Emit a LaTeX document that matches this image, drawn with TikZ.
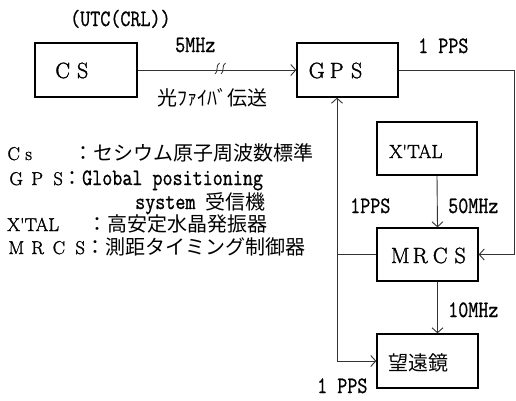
\documentclass[tikz,border=0pt]{standalone}
\usepackage{fontspec}
\newfontfamily\jp{Noto Sans CJK JP}
\newfontfamily\romh{Latin Modern Roman}[FakeBold=1.6]
\newfontfamily\monoh{Latin Modern Mono}[FakeBold=1.0]
\usetikzlibrary{arrows.meta}
\newcommand\cellw[2]{\makebox[#1][c]{#2}}
\newcommand\tallm[1]{\scalebox{1}[1.2]{#1}}
\begin{document}
\begin{tikzpicture}[x=1pt,y=-1pt,
  box/.style={draw=black,line width=1.3pt,inner sep=0,minimum width=101pt,minimum height=54pt},
  conn/.style={draw=black!80,line width=0.9pt},
  arr/.style={conn,-{Straight Barb[length=5pt,width=11pt,line width=0.9pt]}},
  lbl/.style={inner sep=0,anchor=base west,font=\fontsize{19.5}{22}\selectfont\monoh},
  jtxt/.style={inner sep=0,anchor=base west,font=\fontsize{20}{24}\selectfont\jp},
  btxt/.style={inner sep=0,anchor=base west,font=\fontsize{22}{26}\selectfont\romh},
  ltxt/.style={inner sep=0,anchor=base west,font=\fontsize{18.5}{22}\selectfont\romh},
]
\useasboundingbox (0,0) rectangle (516,400);

% boxes
\node[box,minimum width=102pt] (cs) at (86,70) {};
\node[box] (gps) at (347.5,70) {};
\node[box,minimum width=100pt,minimum height=53pt] (xtal) at (427,148.5) {};
\node[box,minimum height=53pt] (mrcs) at (427.5,254.5) {};
\node[box] (tel) at (427.5,361) {};

% box texts
\node[btxt] (cst) at (52.5,78) {\cellw{20pt}{C}\cellw{20pt}{S}};
\node[btxt] (gpst) at (306.5,78) {\cellw{20pt}{G}\cellw{20pt}{P}\cellw{20pt}{S}};
\node[ltxt,font=\fontsize{19}{22}\selectfont\romh] (xtalt) at (389,158) {X'TAL};
\node[btxt] (mrcst) at (390,263) {\cellw{20pt}{M}\cellw{20pt}{R}\cellw{20pt}{C}\cellw{20pt}{S}};
\node[jtxt] (telt) at (388,370) {望遠鏡};

% labels
\node[lbl] (utc) at (70,26) {\tallm{(UTC(CRL))}};
\node[lbl] (f5) at (175,52) {\tallm{5MHz}};
\node[jtxt] (fiber) at (157,105) {光ﾌｧｲﾊﾞ伝送};
\node[lbl] (pps1) at (418,53) {\tallm{1 PPS}};
\node[lbl] (pps2) at (350,213) {\tallm{1PPS}};
\node[lbl] (f50) at (448,213) {\tallm{50MHz}};
\node[lbl] (f10) at (448,317) {\tallm{10MHz}};
\node[lbl] (pps3) at (317,393) {\tallm{1 PPS}};

% legend
\node[ltxt] (l1a) at (6,160) {\cellw{15pt}{C}\cellw{15pt}{s}};
\node[jtxt] (l1b) at (73,160) {：セシウム原子周波数標準};
\node[ltxt] (l2a) at (5.5,185) {\cellw{21pt}{G}\cellw{21pt}{P}\cellw{21pt}{S}};
\node[jtxt] (l2b) at (62,185) {：{\monoh\fontsize{19.5}{22}\selectfont\tallm{Global positioning}}};
\node[jtxt] (l3) at (135,209) {{\monoh\fontsize{19.5}{22}\selectfont\tallm{system}\ }受信機};
\node[ltxt] (l4a) at (7,231) {X'TAL};
\node[jtxt] (l4b) at (87,231) {：高安定水晶発振器};
\node[ltxt] (l5a) at (5.5,254) {\cellw{21.3pt}{M}\cellw{21.3pt}{R}\cellw{21.3pt}{C}\cellw{21.3pt}{S}};
\node[jtxt] (l5b) at (85,254) {：測距タイミング制御器};

% connectors
\draw[arr] (cs.east) -- (gps.west);
\coordinate (rt) at (514,70);
\draw[arr] (gps.east) -- (rt) |- (mrcs.east);
\draw[arr] ([xshift=10pt]xtal.south) -- ([xshift=10pt]mrcs.north);
\draw[arr] ([xshift=10pt]mrcs.south) -- ([xshift=10pt]tel.north);
\coordinate (lj) at (337,254.5);
\draw[conn] (mrcs.west) -- (lj);
\draw[arr] (lj) -- (lj |- gps.south);
\draw[arr] (lj) |- (tel.west);

% break mark on the fibre line
\draw[conn,line width=0.8pt] (215,74) .. controls (218.5,72) and (215.5,65) .. (219.5,63);
\draw[conn,line width=0.8pt] (221,74) .. controls (224.5,72) and (221.5,65) .. (225.5,63);
\end{tikzpicture}
\end{document}
